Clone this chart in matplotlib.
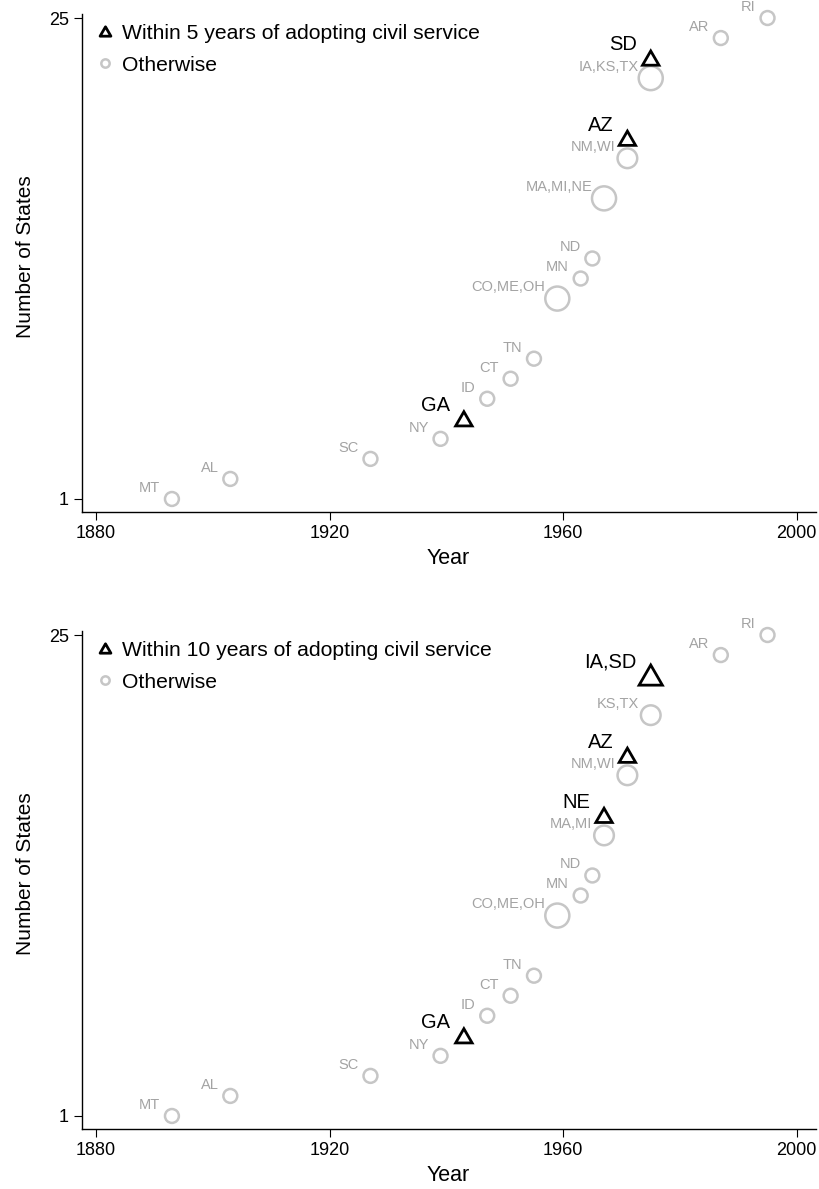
import numpy as np
import matplotlib
matplotlib.use('Agg')
import matplotlib.pyplot as plt
from matplotlib.lines import Line2D
from matplotlib.path import Path

plt.rcParams['font.family'] = ['Liberation Sans', 'DejaVu Sans']

# ---- panel 1: within 5 years ----
circ_lab1 = ['MT', 'AL', 'SC', 'NY', 'ID', 'CT', 'TN', 'CO,ME,OH', 'MN', 'ND',
             'MA,MI,NE', 'NM,WI', 'IA,KS,TX', 'AR', 'RI']
circ_yr1 = [1893, 1903, 1927, 1939, 1947, 1951, 1955, 1959, 1963, 1965, 1967, 1971, 1975, 1987, 1995]
circ_cnt1 = [1, 2, 3, 4, 6, 7, 8, 11, 12, 13, 16, 18, 22, 24, 25]
circ_n1 = [1, 1, 1, 1, 1, 1, 1, 3, 1, 1, 3, 2, 3, 1, 1]
tri_lab1 = ['GA', 'AZ', 'SD']
tri_yr1 = [1943, 1971, 1975]
tri_cnt1 = [5, 19, 23]
tri_n1 = [1, 1, 1]

# ---- panel 2: within 10 years ----
circ_lab2 = ['MT', 'AL', 'SC', 'NY', 'ID', 'CT', 'TN', 'CO,ME,OH', 'MN', 'ND',
             'MA,MI', 'NM,WI', 'KS,TX', 'AR', 'RI']
circ_yr2 = [1893, 1903, 1927, 1939, 1947, 1951, 1955, 1959, 1963, 1965, 1967, 1971, 1975, 1987, 1995]
circ_cnt2 = [1, 2, 3, 4, 6, 7, 8, 11, 12, 13, 15, 18, 21, 24, 25]
circ_n2 = [1, 1, 1, 1, 1, 1, 1, 3, 1, 1, 2, 2, 2, 1, 1]
tri_lab2 = ['GA', 'NE', 'AZ', 'IA,SD']
tri_yr2 = [1943, 1967, 1971, 1975]
tri_cnt2 = [5, 16, 19, 23]
tri_n2 = [1, 1, 1, 2]

xticks = [1880, 1920, 1960, 2000]
yticks = [1, 25]

gray = '#c6c6c6'
gray_txt = '#a3a3a3'
# equilateral triangle, centred on its bounding box
tri = Path([(-0.866, -0.75), (0.866, -0.75), (0.0, 0.75), (-0.866, -0.75)],
           [Path.MOVETO, Path.LINETO, Path.LINETO, Path.CLOSEPOLY])


def panel(ax, cl, cy, cc, cn, tl, ty, tc, tn, leg):
    ax.scatter(cy, cc, s=np.array(cn) * 100, facecolors='none', edgecolors=gray,
               linewidths=1.8, clip_on=False, zorder=3)
    ax.scatter(ty, tc, s=np.array(tn) * 140, marker=tri, facecolors='none',
               edgecolors='black', linewidths=2.0, clip_on=False, zorder=4,
               joinstyle='miter')
    for lab, x, y in zip(cl, cy, cc):
        ax.annotate(lab, (x, y), xytext=(-8.5, 8), textcoords='offset points',
                    ha='right', va='center', fontsize=10.5, color=gray_txt)
    for lab, x, y in zip(tl, ty, tc):
        ax.annotate(lab, (x, y), xytext=(-10, 9.5), textcoords='offset points',
                    ha='right', va='center', fontsize=14.5, color='black')
    ax.set_xlim(1877.6, 2003.3)
    ax.set_ylim(0.35, 25.2)
    ax.set_xticks(xticks)
    ax.set_yticks(yticks)
    ax.tick_params(length=5.5, width=0.8, labelsize=13, pad=4)
    ax.spines['top'].set_visible(False)
    ax.spines['right'].set_visible(False)
    ax.spines['left'].set_linewidth(1.0)
    ax.spines['bottom'].set_linewidth(1.0)
    ax.set_xlabel('Year', fontsize=15.5)
    ax.set_ylabel('Number of States', fontsize=15)
    ax.xaxis.set_label_coords(0.4986, -0.0723)
    ax.yaxis.set_label_coords(-0.064, 0.512)
    h = [Line2D([], [], marker=tri, color='black', markerfacecolor='none',
                markeredgewidth=2.0, markersize=7.8, linestyle='none'),
         Line2D([], [], marker='o', color=gray, markerfacecolor='none',
                markeredgewidth=1.8, markersize=6, linestyle='none')]
    ax.legend(h, [leg, 'Otherwise'], loc='upper left', bbox_to_anchor=(0.0163, 0.9805),
              frameon=False, fontsize=15.2, borderpad=0, borderaxespad=0,
              handlelength=1.0, handletextpad=0.35, labelspacing=0.62)


fig = plt.figure(figsize=(8.2, 11.89), dpi=100)
ax1 = fig.add_axes([82 / 820, 1 - 512 / 1189, 734 / 820, 498 / 1189])
ax2 = fig.add_axes([82 / 820, 1 - 1129 / 1189, 734 / 820, 498 / 1189])

panel(ax1, circ_lab1, circ_yr1, circ_cnt1, circ_n1, tri_lab1, tri_yr1, tri_cnt1, tri_n1,
      'Within 5 years of adopting civil service')
panel(ax2, circ_lab2, circ_yr2, circ_cnt2, circ_n2, tri_lab2, tri_yr2, tri_cnt2, tri_n2,
      'Within 10 years of adopting civil service')

fig.savefig('out.png', dpi=100)
